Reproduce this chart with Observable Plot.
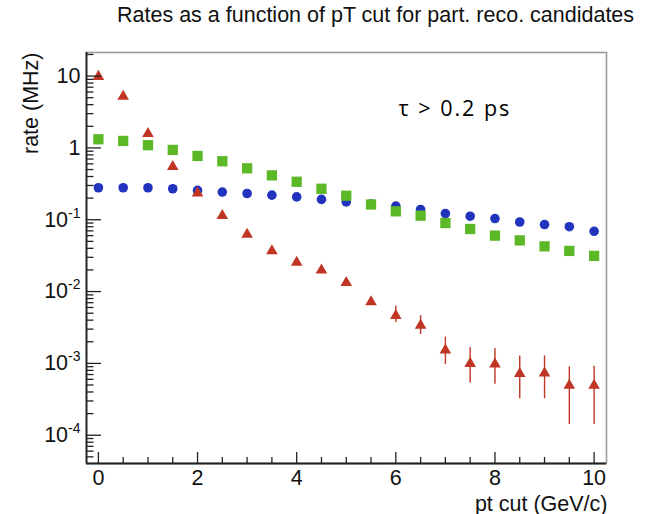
<!DOCTYPE html>
<html><head><meta charset="utf-8">
<script src="https://cdn.jsdelivr.net/npm/d3@7"></script>
<script src="https://cdn.jsdelivr.net/npm/@observablehq/plot@0.6"></script>
<style>
body{margin:0;background:#fff;}
#wrap{position:relative;width:647px;height:514px;overflow:hidden;background:#fff;}
#title{position:absolute;left:117px;top:3px;font:21.5px "Liberation Sans",Arial,sans-serif;line-height:24px;white-space:nowrap;color:#111;}
#chart{position:absolute;left:0;top:40px;}
</style></head><body>
<div id="wrap"><div id="title"></div><div id="chart"></div></div>
<script>
const titleText = "Rates as a function of pT cut for part. reco. candidates";
const xLabel = "pt cut (GeV/c)";
const yLabel = "rate (MHz)";
const annotation = "τ > 0.2 ps";

const pt    = [0, 0.5, 1, 1.5, 2, 2.5, 3, 3.5, 4, 4.5, 5, 5.5, 6, 6.5, 7, 7.5, 8, 8.5, 9, 9.5, 10];
const blue  = [0.279, 0.279, 0.279, 0.270, 0.256, 0.243, 0.232, 0.220, 0.208, 0.192, 0.177, 0.166, 0.155, 0.139, 0.122, 0.112, 0.104, 0.093, 0.0857, 0.080, 0.069];
const green = [1.32, 1.25, 1.09, 0.938, 0.773, 0.652, 0.520, 0.415, 0.338, 0.270, 0.216, 0.163, 0.131, 0.114, 0.090, 0.0743, 0.0601, 0.0516, 0.0426, 0.0368, 0.0314];
const red   = [10.4, 5.5, 1.66, 0.578, 0.248, 0.120, 0.0658, 0.0387, 0.0269, 0.0210, 0.0140, 0.00755, 0.00488, 0.00357, 0.00161, 0.00105, 0.00103, 0.00076, 0.00077, 0.00052, 0.00052];
const redLo = [null, null, null, null, null, null, null, null, null, null, null, 0.0068, 0.00372, 0.00253, 0.000962, 0.000534, 0.000512, 0.000322, 0.000322, 0.000141, 0.000141];
const redHi = [null, null, null, null, null, null, null, null, null, null, null, 0.0083, 0.00631, 0.00462, 0.00232, 0.00165, 0.00161, 0.00127, 0.00127, 0.000893, 0.000914];

const xTicks = [0, 2, 4, 6, 8, 10];
const xMinorTicks = [0.5, 1, 1.5, 2.5, 3, 3.5, 4.5, 5, 5.5, 6.5, 7, 7.5, 8.5, 9, 9.5];
const yTicks = [1e-4, 1e-3, 1e-2, 1e-1, 1, 10];
const yTickBase = ["10", "10", "10", "10", "1", "10"];
const yTickExp  = ["-4", "-3", "-2", "-1", "", ""];
const xDomain = [-0.24, 10.25];
const yDomain = [4.04e-5, 21.3];

const colBlue = "#2234bd", colGreen = "#5cb826", colRed = "#c03524";

document.getElementById("title").textContent = titleText;

const rows = pt.map((x, i) => ({x, blue: blue[i], green: green[i], red: red[i], lo: redLo[i], hi: redHi[i]}));
const errRows = rows.filter(d => d.lo != null);

const yMinorTicks = [];
for (let e = -5; e <= 1; e++) for (let k = 2; k <= 9; k++) {
  const v = k * Math.pow(10, e);
  if (v > yDomain[0] && v < yDomain[1]) yMinorTicks.push(v);
}

const triUp = {
  draw(ctx, size) {
    const a = Math.sqrt(4 * size / Math.sqrt(3));
    const h = a * Math.sqrt(3) / 2;
    ctx.moveTo(0, -h / 2);
    ctx.lineTo(a / 2, h / 2);
    ctx.lineTo(-a / 2, h / 2);
    ctx.closePath();
  }
};

const W = 647, H = 474, mt = 12, mb = 51, ml = 86, mr = 41;
const fh = H - mt - mb, fw = W - ml - mr;
const font = '"Liberation Sans", Arial, Helvetica, sans-serif';
const yLabelText = d => { const i = yTicks.indexOf(d); return yTickBase[i] + yTickExp[i]; };

const chart = Plot.plot({
  width: W, height: H,
  marginTop: mt, marginBottom: mb, marginLeft: ml, marginRight: mr,
  style: {fontFamily: font, fontSize: "21.5px", color: "#111", background: "#fff", overflow: "visible"},
  x: {domain: xDomain},
  y: {type: "log", domain: yDomain},
  marks: [
    Plot.frame({stroke: "#9a9a9a", strokeWidth: 1.6}),
    Plot.ruleX(errRows, {x: "x", y1: "lo", y2: "hi", stroke: colRed, strokeWidth: 1.4}),
    Plot.dot(rows, {x: "x", y: "blue", r: 4.8, fill: colBlue, symbol: "circle"}),
    Plot.dot(rows, {x: "x", y: "green", r: 5.8, fill: colGreen, symbol: "square"}),
    Plot.dot(rows, {x: "x", y: "red", r: 4.3, fill: colRed, symbol: triUp}),
    Plot.tickX(xTicks, {x: d => d, insetTop: fh - 11, stroke: "#222", strokeWidth: 1.3}),
    Plot.tickX(xMinorTicks, {x: d => d, insetTop: fh - 6, stroke: "#222", strokeWidth: 1.3}),
    Plot.tickY(yTicks, {y: d => d, insetRight: fw - 15, stroke: "#222", strokeWidth: 1.3}),
    Plot.tickY(yMinorTicks, {y: d => d, insetRight: fw - 7.5, stroke: "#222", strokeWidth: 1.3}),
    Plot.ruleX([xDomain[0]], {stroke: "#222", strokeWidth: 1.8}),
    Plot.ruleY([yDomain[0]], {stroke: "#222", strokeWidth: 1.8}),
    Plot.axisX({ticks: xTicks, tickSize: 0, tickPadding: 6, label: null, fill: "#111"}),
    Plot.axisY({ticks: yTicks, tickFormat: yLabelText, tickSize: 0, tickPadding: 6, label: null, fill: "#111"}),
    Plot.text([yLabel], {frameAnchor: "top-left", rotate: -90, textAnchor: "end", dx: -64, fill: "#111"}),
    Plot.text([xLabel], {frameAnchor: "bottom-right", textAnchor: "end", dx: 1, dy: 47, fill: "#111"}),
    Plot.text([annotation], {frameAnchor: "top-left", textAnchor: "start", dx: 312, dy: 48.6, fill: "#000", fontFamily: '"Open Sans", sans-serif', fontSize: 21.5})
  ]
});
document.getElementById("chart").appendChild(chart);
chart.querySelectorAll("text").forEach(t => {
  if (t.textContent === annotation) t.style.letterSpacing = "2px";
});
yTicks.forEach((d, i) => {
  if (!yTickExp[i]) return;
  chart.querySelectorAll("text").forEach(t => {
    if (t.textContent === yTickBase[i] + yTickExp[i]) {
      t.textContent = yTickBase[i];
      const s = document.createElementNS("http://www.w3.org/2000/svg", "tspan");
      s.setAttribute("dy", "-9");
      s.setAttribute("font-size", "14");
      s.textContent = yTickExp[i];
      t.appendChild(s);
    }
  });
});
</script>
</body></html>
